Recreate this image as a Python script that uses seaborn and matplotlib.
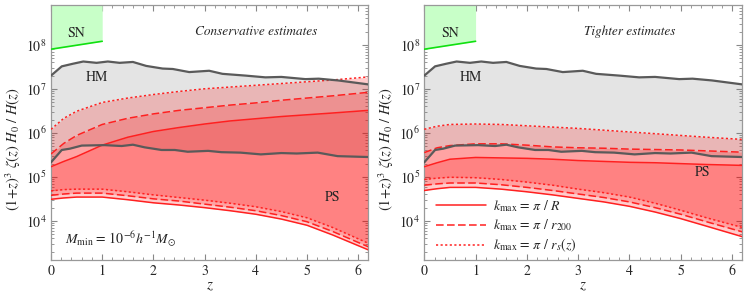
import numpy as np
import pandas as pd
import seaborn as sns
import matplotlib.pyplot as plt
from matplotlib.ticker import LogLocator, MultipleLocator, NullFormatter

sns.set_theme(style="ticks")
plt.rcParams["font.family"] = ["STIXGeneral", "DejaVu Serif"]
plt.rcParams["mathtext.fontset"] = "stix"

# ---- data (log10 of (1+z)^3 zeta(z) H0/H(z)) ----
hm_z = [0, 0.21, 0.43, 0.63, 0.89, 1.11, 1.34, 1.6, 1.86, 2.18, 2.38, 2.7, 3.09,
        3.35, 3.8, 4.19, 4.5, 4.97, 5.23, 5.61, 6.2]
hm_upper = [7.30, 7.51, 7.57, 7.62, 7.59, 7.62, 7.59, 7.61, 7.52, 7.46, 7.45, 7.38,
            7.41, 7.34, 7.30, 7.26, 7.27, 7.22, 7.23, 7.19, 7.10]
hm_low_z = [0, 0.21, 0.37, 0.6, 1.05, 1.38, 1.6, 1.83, 2.16, 2.42, 2.67, 3.07, 3.33,
            3.7, 4.1, 4.5, 4.8, 5.21, 5.6, 6.2]
hm_lower = [5.33, 5.61, 5.64, 5.71, 5.72, 5.70, 5.73, 5.67, 5.61, 5.61, 5.57, 5.59,
            5.56, 5.55, 5.51, 5.54, 5.53, 5.55, 5.47, 5.45]

sn_z = [0, 1]
sn_lower = [7.90, 8.08]

ps_z = [0, 0.25, 0.5, 1, 1.5, 2, 2.5, 3, 3.5, 4, 4.5, 5, 5.5, 6.2]

# conservative estimates
cons_R_hi = [5.23, 5.35, 5.46, 5.72, 5.90, 6.03, 6.12, 6.20, 6.27, 6.32, 6.37, 6.41, 6.45, 6.51]
cons_R_lo = [4.49, 4.52, 4.54, 4.54, 4.48, 4.41, 4.36, 4.30, 4.23, 4.15, 4.04, 3.90, 3.68, 3.34]
cons_r200_hi = [5.52, 5.76, 5.94, 6.19, 6.33, 6.43, 6.51, 6.57, 6.63, 6.68, 6.74, 6.79, 6.84, 6.92]
cons_r200_lo = [4.58, 4.61, 4.63, 4.63, 4.57, 4.50, 4.45, 4.38, 4.31, 4.23, 4.12, 3.98, 3.76, 3.41]
cons_rs_hi = [6.08, 6.33, 6.49, 6.69, 6.79, 6.87, 6.94, 7.00, 7.04, 7.08, 7.12, 7.16, 7.20, 7.27]
cons_rs_lo = [4.68, 4.71, 4.72, 4.72, 4.66, 4.59, 4.53, 4.47, 4.40, 4.32, 4.21, 4.07, 3.85, 3.49]

# tighter estimates
tight_R_hi = [5.23, 5.32, 5.40, 5.44, 5.43, 5.42, 5.40, 5.37, 5.35, 5.33, 5.32, 5.30, 5.28, 5.26]
tight_R_lo = [4.69, 4.73, 4.76, 4.76, 4.72, 4.66, 4.59, 4.51, 4.43, 4.33, 4.20, 4.05, 3.88, 3.64]
tight_r200_hi = [5.55, 5.66, 5.71, 5.75, 5.75, 5.72, 5.68, 5.66, 5.65, 5.63, 5.62, 5.61, 5.59, 5.56]
tight_r200_lo = [4.81, 4.84, 4.86, 4.86, 4.82, 4.76, 4.69, 4.61, 4.53, 4.43, 4.30, 4.15, 3.98, 3.75]
tight_rs_hi = [6.08, 6.15, 6.19, 6.20, 6.19, 6.16, 6.13, 6.10, 6.06, 6.02, 5.98, 5.94, 5.90, 5.85]
tight_rs_lo = [4.94, 4.97, 4.99, 4.98, 4.94, 4.88, 4.81, 4.72, 4.64, 4.54, 4.40, 4.24, 4.07, 3.85]

kmax_labels = [r"$k_{\rm max}$ = $\pi$ / $R$",
               r"$k_{\rm max}$ = $\pi$ / $r_{200}$",
               r"$k_{\rm max}$ = $\pi$ / $r_s(z)$"]

YLO, YHI = 10 ** 3.11, 10 ** 8.905
RED = "#ff2020"
DASHES = [(None, None), (5, 2.2), (1.4, 1.6)]


def pw(v):
    return np.power(10.0, np.asarray(v, dtype=float))


def draw_panel(ax, bands, title, ps_xy, show_mmin, legend):
    ax.set_yscale("log")
    # SN region
    ax.fill_between(sn_z, pw(sn_lower), YHI, color="#c8ffc8", lw=0, zorder=1)
    sns.lineplot(x=sn_z, y=pw(sn_lower), ax=ax, color="#10e010", lw=1.2, zorder=5)

    # HM band
    hm_up_on_low = np.interp(hm_low_z, hm_z, hm_upper)
    ax.fill_between(hm_low_z, pw(hm_lower), pw(hm_up_on_low), color="#7a7a7a",
                    alpha=0.2, lw=0, zorder=2)

    # PS bands
    handles = []
    for (hi, lo), dash, lab in zip(bands, DASHES, kmax_labels):
        ax.fill_between(ps_z, pw(lo), pw(hi), color="#ff0000", alpha=0.2, lw=0, zorder=2)
        for k, arr in enumerate([hi, lo]):
            df = pd.DataFrame({"z": ps_z, "v": pw(arr)})
            sns.lineplot(data=df, x="z", y="v", ax=ax, color=RED, lw=1.1,
                         zorder=4, label=lab if k == 0 else None)
            line = ax.get_lines()[-1]
            if dash[0] is not None:
                line.set_dashes(dash)
            if k == 0:
                handles.append(line)

    sns.lineplot(x=hm_z, y=pw(hm_upper), ax=ax, color="#5a5a5a", lw=1.6, zorder=6)
    sns.lineplot(x=hm_low_z, y=pw(hm_lower), ax=ax, color="#5a5a5a", lw=1.6, zorder=6)

    ax.set_xlim(0, 6.2)
    ax.set_ylim(YLO, YHI)
    ax.set_xticks([0, 1, 2, 3, 4, 5, 6])
    ax.xaxis.set_minor_locator(MultipleLocator(0.2))
    ax.yaxis.set_major_locator(LogLocator(base=10, numticks=10))
    ax.yaxis.set_minor_locator(LogLocator(base=10, subs=np.arange(2, 10) * 1.0, numticks=20))
    ax.yaxis.set_minor_formatter(NullFormatter())
    ax.tick_params(which="both", direction="in", top=True, right=True,
                   color="#888888", labelsize=10, pad=3)
    ax.tick_params(which="major", length=4, width=0.8)
    ax.tick_params(which="minor", length=2, width=0.6)
    for s in ax.spines.values():
        s.set_color("#999999")
        s.set_linewidth(0.9)

    ax.set_xlabel(r"$z$", fontsize=11)
    ax.xaxis.set_label_coords(0.5, -0.075)
    ax.set_ylabel(r"$(1\!+\!z)^3\ \zeta(z)\ H_0\ /\ H(z)$", fontsize=10.5)
    ax.yaxis.set_label_coords(-0.089, 0.435)

    ax.text(0.5, 10 ** 8.25, "SN", fontsize=10, ha="center", va="center", zorder=7)
    ax.text(0.9, 10 ** 7.27, "HM", fontsize=10, ha="center", va="center", zorder=7)
    ax.text(4.0, 10 ** 8.29, title, fontsize=9.5, style="italic", ha="center",
            va="center", zorder=7)
    ax.text(ps_xy[0], 10 ** ps_xy[1], "PS", fontsize=10, ha="center", va="center", zorder=7)
    if show_mmin:
        ax.text(0.27, 10 ** 3.58, r"$M_{\rm min}$ = 10$^{-6}h^{-1}M_{\odot}$",
                fontsize=10, ha="left", va="center", zorder=7)

    if legend:
        ax.legend(handles=handles, labels=kmax_labels, loc="lower left",
                  bbox_to_anchor=(0.02, 0.0), frameon=False, fontsize=10,
                  handlelength=3.6, handletextpad=0.5, labelspacing=0.28,
                  borderaxespad=0.0)
    else:
        lg = ax.get_legend()
        if lg is not None:
            lg.remove()


fig = plt.figure(figsize=(7.47, 2.99), dpi=100)
ax1 = fig.add_axes([0.0683, 0.1304, 0.4248, 0.853])
ax2 = fig.add_axes([0.568, 0.1304, 0.4257, 0.853])

draw_panel(ax1,
           [(cons_R_hi, cons_R_lo), (cons_r200_hi, cons_r200_lo), (cons_rs_hi, cons_rs_lo)],
           "Conservative estimates", (5.5, 4.53), True, False)
draw_panel(ax2,
           [(tight_R_hi, tight_R_lo), (tight_r200_hi, tight_r200_lo), (tight_rs_hi, tight_rs_lo)],
           "Tighter estimates", (5.42, 5.11), False, True)

fig.savefig("out.png", dpi=100)
